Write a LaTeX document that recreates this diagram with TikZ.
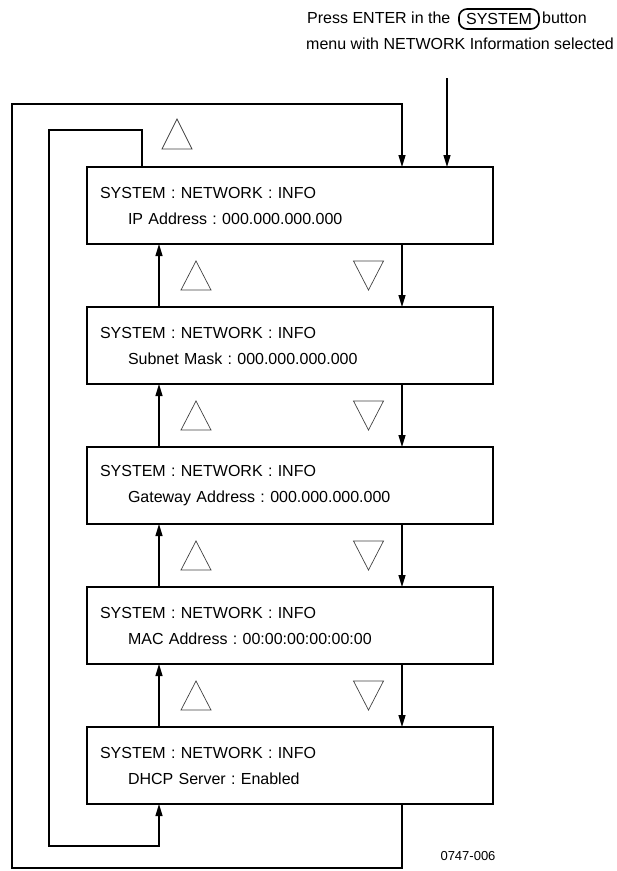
\documentclass[tikz,border=0pt]{standalone}
\usepackage{fontspec}
\setmainfont{Liberation Sans}
\frenchspacing
\usetikzlibrary{positioning,arrows.meta,calc}

\begin{document}
\begin{tikzpicture}[x=1pt, y=-1pt, font=\fontsize{16}{26}\selectfont, node distance=63pt,
  b/.style={draw, line width=2.4pt, outer sep=0pt, align=left, inner xsep=13pt, inner ysep=0pt, text width=380pt, minimum height=77pt},
  a/.style={-{Triangle[length=12pt, width=7pt]}, line width=1.2pt},
  t/.style={line width=0.7pt, draw=black!75}]
\useasboundingbox (0,0) rectangle (617,871);
% info screens
\node[b] (i1) at (290,205.5) {SYSTEM : NETWORK : INFO\\\hspace*{28pt}IP Address : 000.000.000.000};
\node[b, below=of i1] (i2) {SYSTEM : NETWORK : INFO\\\hspace*{28pt}Subnet Mask : 000.000.000.000};
\node[b, below=of i2] (i3) {SYSTEM : NETWORK : INFO\\\hspace*{28pt}Gateway Address : 000.000.000.000};
\node[b, below=of i3] (i4) {SYSTEM : NETWORK : INFO\\\hspace*{28pt}MAC Address : 00:00:00:00:00:00};
\node[b, below=of i4] (i5) {SYSTEM : NETWORK : INFO\\\hspace*{28pt}DHCP Server : Enabled};
% caption
\node[anchor=base west, inner sep=0pt] (press) at (307,23) {Press ENTER in the};
\node[draw, rounded corners=8pt, line width=1.6pt, inner sep=0pt, minimum width=80pt, minimum height=20pt] (sys) at (499,19) {SYSTEM};
\node[anchor=base west, inner sep=0pt] (btn) at (542,23) {button};
\node[anchor=base west, inner sep=0pt] (menu) at (306,49) {menu with NETWORK Information selected};
\node[font=\fontsize{13}{16}\selectfont] (fig) at (468,856) {0747-006};
% arrows
\coordinate (e) at (447,78);
\coordinate (upx) at (159,0);
\coordinate (dnx) at (402,0);
\coordinate (ix) at (142,0);
\coordinate (ot) at (12,104);
\coordinate (ob) at (12,868);
\coordinate (it) at (49,130);
\coordinate (ib) at (49,846);
\draw[a] (e) -- (e |- i1.north);
\foreach \u/\v in {i1/i2,i2/i3,i3/i4,i4/i5} {
  \draw[a] (\v.north -| upx) -- (\u.south -| upx);
  \draw[a] (\u.south -| dnx) -- (\v.north -| dnx);
}
\draw[a] (i5.south -| dnx) |- (ob) |- (dnx |- ot) -- (i1.north -| dnx);
\draw[a] (i1.north -| ix) |- (it) |- (upx |- ib) -- (i5.south -| upx);
% up / down keys
\draw[t] (177,119) -- (192,149) -- (162,149) -- cycle;
\foreach \k in {0,...,3} {
  \draw[t] (196,261+140*\k) -- ++(15,29) -- ++(-30,0) -- cycle;
  \draw[t] (353.5,261+140*\k) -- ++(30,0) -- ++(-15,29) -- cycle;
}
\end{tikzpicture}
\end{document}
